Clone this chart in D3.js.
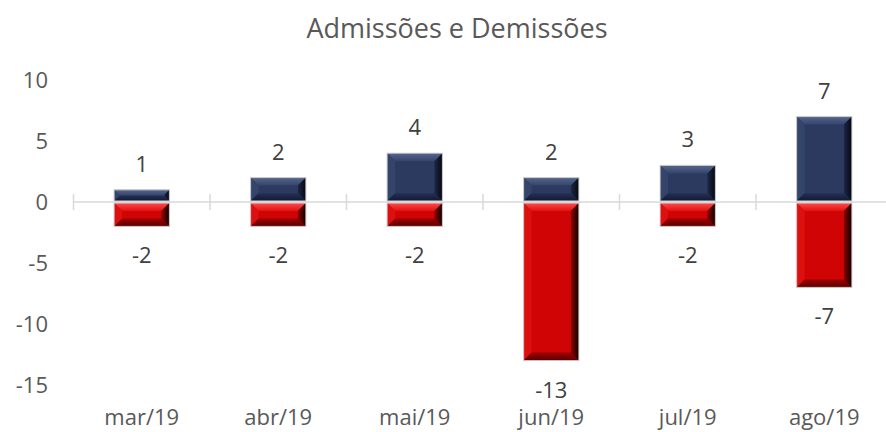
<!DOCTYPE html>
<html>
<head>
<meta charset="utf-8">
<script src="https://cdn.jsdelivr.net/npm/d3@7"></script>
<style>
  body { margin: 0; background: #fff; }
  text { font-family: "Open Sans", sans-serif; }
</style>
</head>
<body>
<div id="chart"></div>
<script>
// data
const months = ["mar/19", "abr/19", "mai/19", "jun/19", "jul/19", "ago/19"];
const admissoes = [1, 2, 4, 2, 3, 7];
const demissoes = [-2, -2, -2, -13, -2, -7];
const yTicks = [10, 5, 0, -5, -10, -15];

const width = 886, height = 432;

const svg = d3.select("#chart").append("svg")
    .attr("width", width)
    .attr("height", height);

const defs = svg.append("defs");

// shading gradients for the bevel edges
function grad(id, c1, c2, vertical) {
  const g = defs.append("linearGradient").attr("id", id)
      .attr("x1", 0).attr("y1", 0)
      .attr("x2", vertical ? 0 : 1).attr("y2", vertical ? 1 : 0);
  g.append("stop").attr("offset", "0%").attr("stop-color", c1);
  g.append("stop").attr("offset", "100%").attr("stop-color", c2);
}
grad("blueRight", "#1d2848", "#05080f", false);
grad("redRight", "#8a0000", "#100000", false);
grad("blueTop", "#55658c", "#34446b", true);
grad("redTop", "#ff4a4a", "#e01010", true);
grad("blueBottom", "#26315a", "#111830", true);
grad("redBottom", "#a00000", "#5a0000", true);

const x = d3.scaleBand()
    .domain(months)
    .range([73.5, 892.5])
    .paddingInner(0.595)
    .paddingOuter(0.2975);

const y = d3.scaleLinear()
    .domain([-15, 10])
    .range([385, 80]);

// title
svg.append("text")
    .attr("x", 457)
    .attr("y", 38)
    .attr("text-anchor", "middle")
    .attr("fill", "#595959")
    .style("font-size", "27px")
    .text("Admissões e Demissões");

// y axis labels (no line)
svg.selectAll(".ylab")
  .data(yTicks)
  .enter().append("text")
    .attr("class", "ylab")
    .attr("x", 48)
    .attr("y", d => y(d) + 8)
    .attr("text-anchor", "end")
    .attr("fill", "#595959")
    .style("font-size", "22px")
    .text(d => d);

// zero axis with category tick marks
const axisG = svg.append("g").attr("transform", "translate(0," + y(0) + ")");
axisG.append("line")
    .attr("x1", 73.5).attr("x2", 892.5)
    .attr("stroke", "#d9d9d9").attr("stroke-width", 1.5);
const step = x.step();
axisG.selectAll(".tk")
  .data(d3.range(months.length + 1))
  .enter().append("line")
    .attr("x1", i => 73.5 + i * step)
    .attr("x2", i => 73.5 + i * step)
    .attr("y1", -8).attr("y2", 8)
    .attr("stroke", "#d9d9d9").attr("stroke-width", 1.5);

// bevelled bar
function bevelBar(g, x0, y0, w, h, pal) {
  const b = Math.min(8, h / 2, w / 2);
  const x1 = x0 + w, y1 = y0 + h;
  g.append("rect").attr("x", x0).attr("y", y0).attr("width", w).attr("height", h)
      .attr("fill", pal.base);
  // top bevel
  g.append("polygon")
      .attr("points", [[x0, y0], [x1, y0], [x1 - b, y0 + b], [x0 + b, y0 + b]].join(" "))
      .attr("fill", pal.top);
  // left bevel
  g.append("polygon")
      .attr("points", [[x0, y0], [x0 + b, y0 + b], [x0 + b, y1 - b], [x0, y1]].join(" "))
      .attr("fill", pal.left);
  // bottom bevel
  g.append("polygon")
      .attr("points", [[x0, y1], [x0 + b, y1 - b], [x1 - b, y1 - b], [x1, y1]].join(" "))
      .attr("fill", pal.bottom);
  // right bevel
  g.append("polygon")
      .attr("points", [[x1, y0], [x1, y1], [x1 - b, y1 - b], [x1 - b, y0 + b]].join(" "))
      .attr("fill", pal.right);
  g.append("rect").attr("x", x0).attr("y", y0).attr("width", w).attr("height", h)
      .attr("fill", "none").attr("stroke", "#d0d0d0").attr("stroke-width", 1);
}

const bluePal = { base: "#2c3a5f", top: "url(#blueTop)", left: "#34446b", bottom: "url(#blueBottom)", right: "url(#blueRight)" };
const redPal = { base: "#d00404", top: "url(#redTop)", left: "#dd1010", bottom: "url(#redBottom)", right: "url(#redRight)" };

const bars = svg.append("g");
months.forEach((m, i) => {
  const g = bars.append("g");
  const a = admissoes[i], d = demissoes[i];
  bevelBar(g, x(m), y(a), x.bandwidth(), y(0) - 1 - y(a), bluePal);
  bevelBar(g, x(m), y(0) + 1, x.bandwidth(), y(d) - y(0) - 1, redPal);
});

// value labels
svg.selectAll(".lblA")
  .data(admissoes)
  .enter().append("text")
    .attr("x", (d, i) => x(months[i]) + x.bandwidth() / 2)
    .attr("y", d => y(d) - 18)
    .attr("text-anchor", "middle")
    .attr("fill", "#404040")
    .style("font-size", "22px")
    .text(d => d);

svg.selectAll(".lblD")
  .data(demissoes)
  .enter().append("text")
    .attr("x", (d, i) => x(months[i]) + x.bandwidth() / 2)
    .attr("y", d => y(d) + 37)
    .attr("text-anchor", "middle")
    .attr("fill", "#404040")
    .style("font-size", "22px")
    .text(d => d);

// category labels
svg.selectAll(".xlab")
  .data(months)
  .enter().append("text")
    .attr("x", d => x(d) + x.bandwidth() / 2)
    .attr("y", 425)
    .attr("text-anchor", "middle")
    .attr("fill", "#595959")
    .style("font-size", "22px")
    .text(d => d);
</script>
</body>
</html>
